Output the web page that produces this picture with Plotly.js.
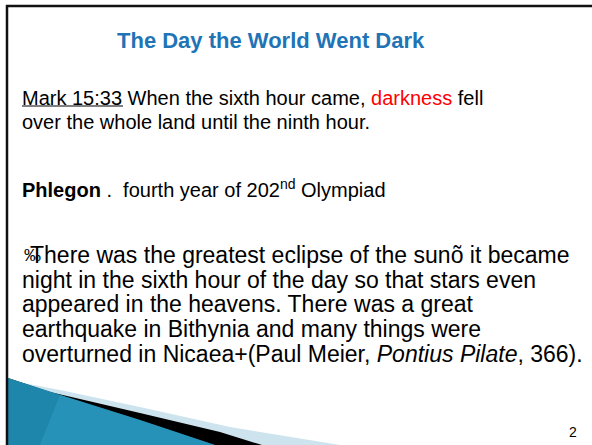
<!DOCTYPE html>
<html>
<head>
<meta charset="utf-8">
<script src="https://cdn.plot.ly/plotly-3.0.1.min.js"></script>
<style>html,body{margin:0;padding:0;background:#fff;}#chart{width:592px;height:445px;}</style>
</head>
<body>
<div id="chart"></div>
<script>
// Slide content (text only)
const titleText = "The Day the World Went Dark";
const verseLines = [
  'Mark 15:33 When the sixth hour came, <span style="color:#ff0000">darkness</span> fell',
  'over the whole land until the ninth hour.'
];
const phlegonLine = '<b>Phlegon</b> .  fourth year of 202<sup>nd</sup> Olympiad';
const quoteMark = '\u2030';
const quoteLines = [
  'There was the greatest eclipse of the sun\u00f5 it became',
  'night in the sixth hour of the day so that stars even',
  'appeared in the heavens. There was a great',
  'earthquake in Bithynia and many things were',
  'overturned in Nicaea+(Paul Meier, <i>Pontius Pilate</i>, 366).'
];
const pageNumber = "2";

// layout positions (pixels)
const verseY = [98, 122];
const phlegonY = 188;
const quoteY = [255, 280, 304, 329, 354];
const textX = 21;

const FONT = "Liberation Sans, Arial, sans-serif";

const annotations = [];
function addText(x, y, text, size, extra) {
  annotations.push(Object.assign({
    x: x, y: y, xref: 'x', yref: 'y', xanchor: 'left', yanchor: 'middle',
    text: text, showarrow: false, borderpad: 0,
    font: {family: FONT, size: size, color: '#000'}
  }, extra || {}));
}
annotations.push({
  x: 271, y: 40, xref: 'x', yref: 'y', xanchor: 'center', yanchor: 'middle',
  text: '<b>' + titleText + '</b>', showarrow: false,
  font: {family: FONT, size: 22, color: '#1f74b6'}
});
verseLines.forEach((t, i) => addText(textX, verseY[i], t, 20));
addText(textX, phlegonY, phlegonLine, 20);
addText(textX + 2, quoteY[0], quoteMark, 17);
quoteLines.forEach((t, i) => addText(i === 0 ? textX + 8 : textX, quoteY[i], t, 23));
annotations.push({
  x: 573, y: 432, xref: 'x', yref: 'y', xanchor: 'center', yanchor: 'middle',
  text: pageNumber, showarrow: false,
  font: {family: FONT, size: 14, color: '#000'}
});

const shapes = [
  // light blue band
  {type: 'path', xref: 'x', yref: 'y', path: 'M 8 380 L 60 390 L 140 407 L 230 427 L 340 445 L 8 445 Z',
   fillcolor: '#cde3ee', line: {width: 0}, layer: 'above'},
  // black band
  {type: 'path', xref: 'x', yref: 'y', path: 'M 8 378 L 50 392 L 140 413 L 220 432 L 262 445 L 8 445 Z',
   fillcolor: '#000000', line: {width: 0}, layer: 'above'},
  // teal wedge
  {type: 'path', xref: 'x', yref: 'y', path: 'M 8 378 L 67 397 L 140 420 L 215 445 L 8 445 Z',
   fillcolor: '#1f86ab', line: {width: 0}, layer: 'above'},
  {type: 'path', xref: 'x', yref: 'y', path: 'M 60 395 L 140 420 L 215 445 L 40 445 Z',
   fillcolor: '#2d9bc0', opacity: 0.6, line: {width: 0}, layer: 'above'},
  // border lines
  {type: 'line', xref: 'x', yref: 'y', x0: 6, x1: 592, y0: 6, y1: 6, line: {color: '#111', width: 2.5}, layer: 'above'},
  {type: 'line', xref: 'x', yref: 'y', x0: 7, x1: 7, y0: 5, y1: 445, line: {color: '#111', width: 2.5}, layer: 'above'},
  // underline for "Mark 15:33"
  {type: 'line', xref: 'x', yref: 'y', x0: 22, x1: 123, y0: 106, y1: 106, line: {color: '#000', width: 1.2}, layer: 'above'}
];

const layout = {
  width: 592, height: 445,
  margin: {l: 0, r: 0, t: 0, b: 0},
  paper_bgcolor: '#ffffff', plot_bgcolor: '#ffffff',
  xaxis: {range: [0, 592], visible: false, fixedrange: true},
  yaxis: {range: [445, 0], visible: false, fixedrange: true},
  showlegend: false,
  annotations: annotations,
  shapes: shapes
};

Plotly.newPlot('chart', [{x: [], y: [], type: 'scatter', mode: 'markers'}], layout, {displayModeBar: false, staticPlot: true});
</script>
</body>
</html>
